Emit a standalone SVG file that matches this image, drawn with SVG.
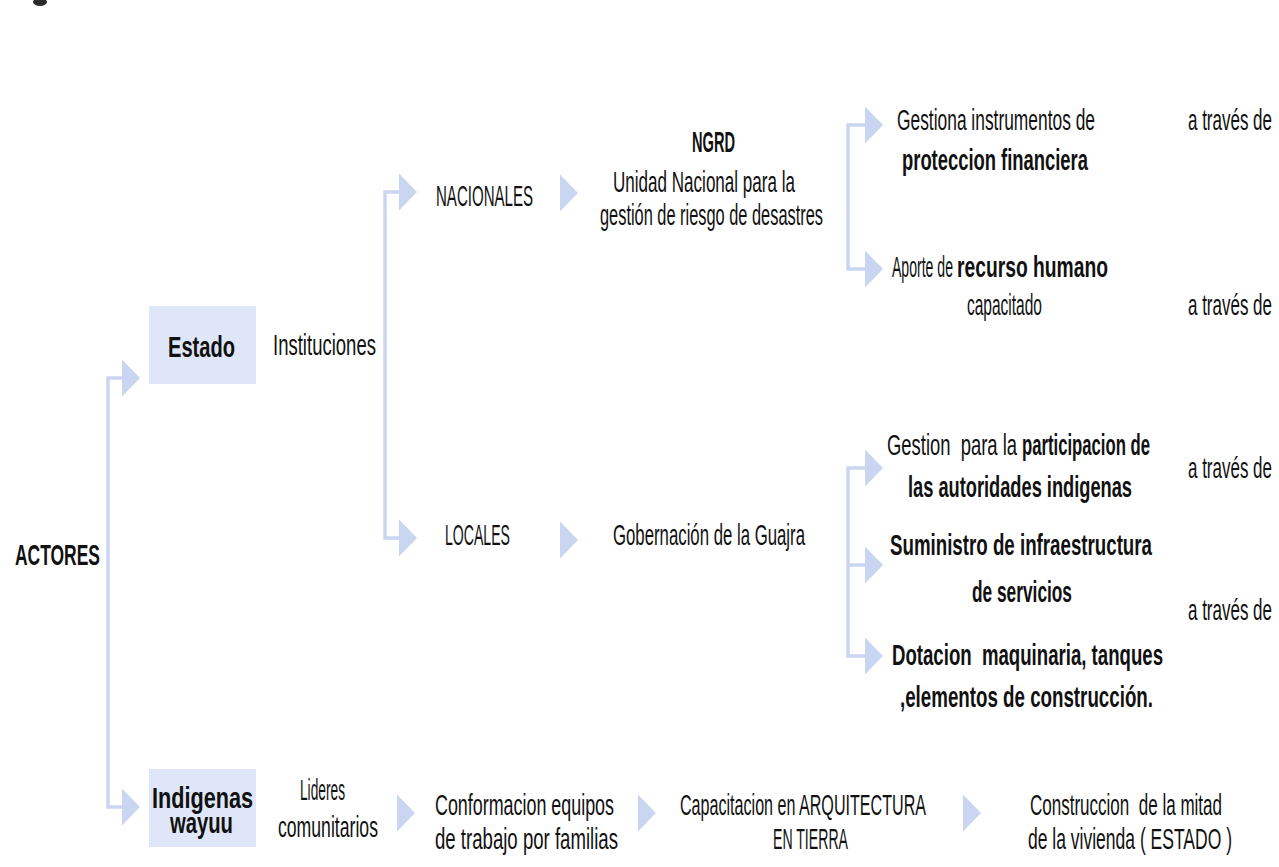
<svg xmlns="http://www.w3.org/2000/svg" xmlns:xlink="http://www.w3.org/1999/xlink" width="1279" height="867" viewBox="0 0 1279 867">
<style>
.t{font-family:"Liberation Sans",Arial,sans-serif;font-size:30px;fill:#111}
.b{font-weight:700}
.ln{fill:none;stroke:#c9d5f1;stroke-width:3.5}
.tri{fill:#c9d5f1}
.box{fill:#dfe6f8}
</style>
<defs>
<path id="tri" d="M0,-18.5 L18,0 L0,18.5 Z"/>
</defs>
<rect width="1279" height="867" fill="#ffffff"/>
<g id="fragment"><ellipse cx="40" cy="2" rx="7" ry="4" fill="#2a2a2a"/></g>
<g id="connectors">
<path class="ln" d="M123,378 H108 V807 H123"/>
<path class="ln" d="M399,192 H385 V538 H399"/>
<path class="ln" d="M866,125 H848 V269 H866"/>
<path class="ln" d="M866,468 H848 V656 H866 M848,565 H866"/>
<use href="#tri" class="tri" x="122" y="378"/>
<use href="#tri" class="tri" x="122" y="807"/>
<use href="#tri" class="tri" x="399" y="192"/>
<use href="#tri" class="tri" x="399" y="538"/>
<use href="#tri" class="tri" x="560" y="193"/>
<use href="#tri" class="tri" x="560" y="540"/>
<use href="#tri" class="tri" x="865" y="125"/>
<use href="#tri" class="tri" x="865" y="269"/>
<use href="#tri" class="tri" x="865" y="468"/>
<use href="#tri" class="tri" x="865" y="565"/>
<use href="#tri" class="tri" x="865" y="656"/>
<use href="#tri" class="tri" x="397" y="813"/>
<use href="#tri" class="tri" x="638" y="813"/>
<use href="#tri" class="tri" x="963" y="813"/>
</g>
<g id="actores"><g transform="scale(0.55 1)"><text class="t b" x="27.27" y="565" textLength="154.55" lengthAdjust="spacingAndGlyphs">ACTORES</text></g></g>
<g id="estado"><rect class="box" x="149" y="306" width="107" height="78"/><g transform="scale(0.55 1)"><text class="t b" x="305.45" y="357" textLength="121.82" lengthAdjust="spacingAndGlyphs">Estado</text></g></g>
<g id="instituciones"><g transform="scale(0.55 1)"><text class="t" x="496.36" y="355" textLength="187.27" lengthAdjust="spacingAndGlyphs">Instituciones</text></g></g>
<g id="nacionales"><g transform="scale(0.55 1)"><text class="t" x="792.73" y="206" textLength="176.36" lengthAdjust="spacingAndGlyphs">NACIONALES</text></g></g>
<g id="ngrd"><g transform="scale(0.55 1)">
<text class="t b" x="1258.18" y="152" textLength="78.18" lengthAdjust="spacingAndGlyphs">NGRD</text>
<text class="t" x="1114.55" y="192" textLength="330.91" lengthAdjust="spacingAndGlyphs">Unidad Nacional para la</text>
<text class="t" x="1090.91" y="225" textLength="405.45" lengthAdjust="spacingAndGlyphs">gestión de riesgo de desastres</text>
</g></g>
<g id="locales"><g transform="scale(0.55 1)"><text class="t" x="809.09" y="545" textLength="118.18" lengthAdjust="spacingAndGlyphs">LOCALES</text></g></g>
<g id="gobernacion"><g transform="scale(0.55 1)"><text class="t" x="1114.55" y="545" textLength="349.09" lengthAdjust="spacingAndGlyphs">Gobernación de la Guajra</text></g></g>
<g id="proteccion"><g transform="scale(0.55 1)">
<text class="t" x="1630.91" y="130" textLength="360" lengthAdjust="spacingAndGlyphs">Gestiona instrumentos de</text>
<text class="t b" x="1640" y="170" textLength="338.18" lengthAdjust="spacingAndGlyphs">proteccion financiera</text>
</g></g>
<g id="recurso"><g transform="scale(0.55 1)">
<text class="t" x="1621.82" y="277" textLength="110.91" lengthAdjust="spacingAndGlyphs">Aporte de</text>
<text class="t b" x="1740" y="277" textLength="274.55" lengthAdjust="spacingAndGlyphs">recurso humano</text>
<text class="t" x="1758.18" y="315" textLength="136.36" lengthAdjust="spacingAndGlyphs">capacitado</text>
</g></g>
<g id="participacion"><g transform="scale(0.55 1)">
<text class="t" x="1612.73" y="455" textLength="236.36" lengthAdjust="spacingAndGlyphs" xml:space="preserve">Gestion  para la</text>
<text class="t b" x="1858.18" y="455" textLength="232.73" lengthAdjust="spacingAndGlyphs">participacion de</text>
<text class="t b" x="1650.91" y="497" textLength="407.27" lengthAdjust="spacingAndGlyphs">las autoridades indigenas</text>
</g></g>
<g id="suministro"><g transform="scale(0.55 1)">
<text class="t b" x="1618.18" y="555" textLength="476.36" lengthAdjust="spacingAndGlyphs">Suministro de infraestructura</text>
<text class="t b" x="1767.27" y="602" textLength="181.82" lengthAdjust="spacingAndGlyphs">de servicios</text>
</g></g>
<g id="dotacion"><g transform="scale(0.55 1)">
<text class="t b" x="1621.82" y="665" textLength="492.73" lengthAdjust="spacingAndGlyphs" xml:space="preserve">Dotacion  maquinaria, tanques</text>
<text class="t b" x="1636.36" y="707" textLength="460" lengthAdjust="spacingAndGlyphs">,elementos de construcción.</text>
</g></g>
<g id="a-traves-1"><g transform="scale(0.55 1)"><text class="t" x="2160" y="130" textLength="152.73" lengthAdjust="spacingAndGlyphs">a través de</text></g></g>
<g id="a-traves-2"><g transform="scale(0.55 1)"><text class="t" x="2160" y="315" textLength="152.73" lengthAdjust="spacingAndGlyphs">a través de</text></g></g>
<g id="a-traves-3"><g transform="scale(0.55 1)"><text class="t" x="2160" y="478" textLength="152.73" lengthAdjust="spacingAndGlyphs">a través de</text></g></g>
<g id="a-traves-4"><g transform="scale(0.55 1)"><text class="t" x="2160" y="620" textLength="152.73" lengthAdjust="spacingAndGlyphs">a través de</text></g></g>
<g id="indigenas"><rect class="box" x="149" y="769" width="107" height="78"/><g transform="scale(0.55 1)">
<text class="t b" x="276.36" y="808" textLength="183.64" lengthAdjust="spacingAndGlyphs">Indigenas</text>
<text class="t b" x="309.09" y="833" textLength="114.55" lengthAdjust="spacingAndGlyphs">wayuu</text>
</g></g>
<g id="lideres"><g transform="scale(0.55 1)">
<text class="t" x="545.45" y="800" textLength="81.82" lengthAdjust="spacingAndGlyphs">Lideres</text>
<text class="t" x="505.45" y="837" textLength="181.82" lengthAdjust="spacingAndGlyphs">comunitarios</text>
</g></g>
<g id="conformacion"><g transform="scale(0.55 1)">
<text class="t" x="790.91" y="815" textLength="325.45" lengthAdjust="spacingAndGlyphs">Conformacion equipos</text>
<text class="t" x="790.91" y="849" textLength="332.73" lengthAdjust="spacingAndGlyphs">de trabajo por familias</text>
</g></g>
<g id="capacitacion"><g transform="scale(0.55 1)">
<text class="t" x="1236.36" y="815" textLength="447.27" lengthAdjust="spacingAndGlyphs">Capacitacion en ARQUITECTURA</text>
<text class="t" x="1405.45" y="849" textLength="136.36" lengthAdjust="spacingAndGlyphs">EN TIERRA</text>
</g></g>
<g id="construccion"><g transform="scale(0.55 1)">
<text class="t" x="1872.73" y="815" textLength="349.09" lengthAdjust="spacingAndGlyphs" xml:space="preserve">Construccion  de la mitad</text>
<text class="t" x="1869.09" y="849" textLength="370.91" lengthAdjust="spacingAndGlyphs">de la vivienda ( ESTADO )</text>
</g></g>
</svg>
